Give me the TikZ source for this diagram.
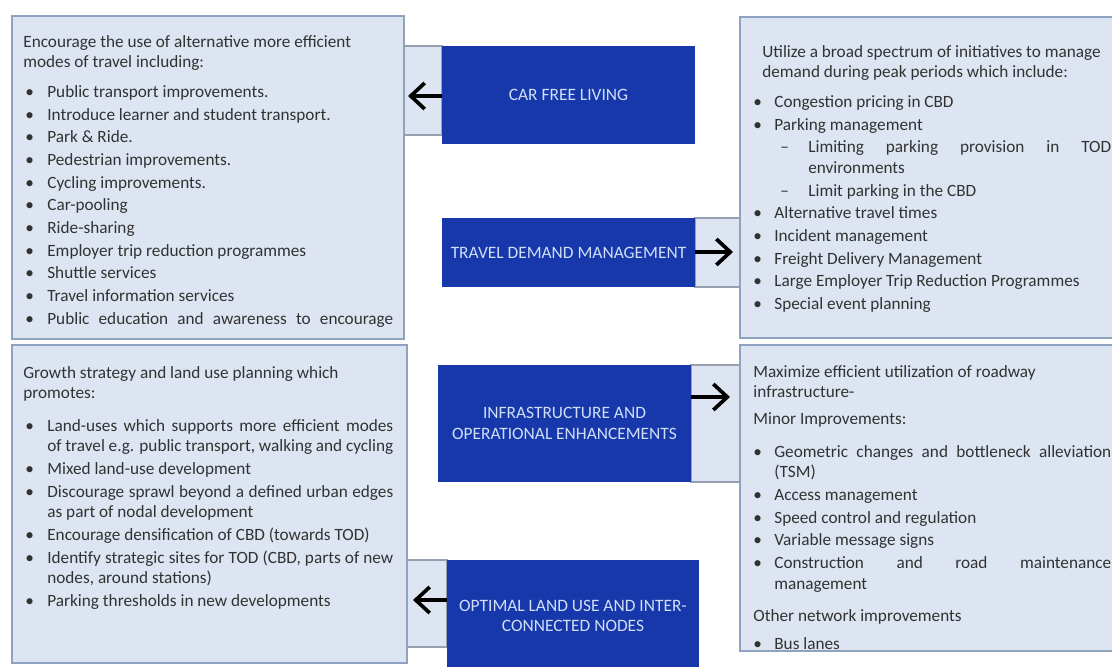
\documentclass[tikz,border=0pt]{standalone}
\usepackage{fontspec}
\setmainfont{Carlito}
\usepackage{enumitem}
\usepackage{tikz}
\usetikzlibrary{arrows.meta}
\definecolor{boxfill}{RGB}{220,229,241}
\definecolor{boxline}{RGB}{143,163,193}
\definecolor{panelline}{RGB}{150,160,176}
\definecolor{themeblue}{RGB}{22,56,170}
\definecolor{themetext}{RGB}{210,222,248}
\definecolor{bodytext}{RGB}{50,50,50}
\newcommand{\px}{0.02cm}
\newcommand{\fullline}[1]{{\parfillskip=0pt\relax #1\par}}
\setlist[itemize]{label=\textbullet, align=left, labelwidth=0.14cm, labelsep=*, itemsep=1.2pt, parsep=0pt, topsep=5.4pt, partopsep=0pt}
\setlist[itemize,1]{leftmargin=0.48cm, labelindent=0.04cm}
\setlist[itemize,2]{label=--, leftmargin=0.68cm, labelindent=0.12cm, topsep=1.2pt}
\tikzset{infobox/.style = {draw=boxline, fill=boxfill, line width=0.8pt, inner sep=0pt}}
\tikzset{linkpanel/.style = {draw=panelline, fill=boxfill, line width=0.6pt, inner sep=0pt}}
\tikzset{themebox/.style = {fill=themeblue, text=themetext, align=center, inner sep=0pt, minimum width=253*\px, font=\fontsize{9.9}{11.7}\selectfont}}
\tikzset{listtext/.style = {anchor=base west, inner sep=0pt, align=justify, text=bodytext, font=\fontsize{9.8}{11.7}\selectfont}}
\tikzset{bigarrow/.style={line width=2.1pt, -{Straight Barb[length=0.28cm,width=0.52cm]}}}

\begin{document}
\begin{tikzpicture}[x=0.02cm, y=-0.02cm]
	\useasboundingbox (0,0) rectangle (1112,666);
	\clip (0,0) rectangle (1112,666);
	% panels behind the arrows
	\node[linkpanel, minimum width=38*\px, minimum height=89*\px] (carlink) at (423,90.5) {};
	\node[linkpanel, minimum width=45*\px, minimum height=69*\px] (tdmlink) at (717.5,252.5) {};
	\node[linkpanel, minimum width=49*\px, minimum height=117*\px] (infralink) at (715.5,423.5) {};
	\node[linkpanel, minimum width=40*\px, minimum height=87*\px] (landlink) at (427,603.5) {};
	% the four lists
	\node[infobox, minimum width=392*\px, minimum height=323*\px] (carbox) at (208,177.5) {};
	\node[infobox, minimum width=385*\px, minimum height=321*\px] (tdmbox) at (932.5,177.5) {};
	\node[infobox, minimum width=395*\px, minimum height=318*\px] (landbox) at (209.5,504) {};
	\node[infobox, minimum width=385*\px, minimum height=306*\px] (infrabox) at (932.5,498) {};
	\node[listtext, text width=7.4cm] (cartext) at (23,47) {%
		Encourage the use of alternative more efficient\\
		modes of travel including:
		\begin{itemize}
			\item Public transport improvements.
			\item Introduce learner and student transport.
			\item Park \& Ride.
			\item Pedestrian improvements.
			\item Cycling improvements.
			\item Car-pooling
			\item Ride-sharing
			\item Employer trip reduction programmes
			\item Shuttle services
			\item Travel information services
			\item \fullline{Public education and awareness to encourage}
		\end{itemize}};
	\node[listtext, text width=7.16cm] (tdmtext) at (753,57) {%
		\hspace*{0.18cm}Utilize a broad spectrum of initiatives to manage\\
		\hspace*{0.18cm}demand during peak periods which include:
		\begin{itemize}[leftmargin=0.42cm, labelindent=0pt]
			\item Congestion pricing in CBD
			\item Parking management
			\begin{itemize}
				\item Limiting parking provision in TOD\linebreak environments
				\item Limit parking in the CBD
			\end{itemize}
			\item Alternative travel times
			\item Incident management
			\item Freight Delivery Management
			\item Large Employer Trip Reduction Programmes
			\item Special event planning
		\end{itemize}};
	\node[listtext, text width=7.4cm] (landtext) at (23,378) {%
		Growth strategy and land use planning which\\
		promotes:
		\begin{itemize}[topsep=7pt]
			\item Land-uses which supports more efficient modes\linebreak of travel e.g. public transport, walking and cycling
			\item Mixed land-use development
			\item Discourage sprawl beyond a defined urban edges\linebreak as part of nodal development
			\item Encourage densification of CBD (towards TOD)
			\item Identify strategic sites for TOD (CBD, parts of new\linebreak nodes, around stations)
			\item Parking thresholds in new developments
		\end{itemize}};
	\node[listtext, text width=7.16cm] (infratext) at (753,377) {%
		Maximize efficient utilization of roadway\\
		infrastructure-\par\vspace{3.6pt}
		Minor Improvements:
		\begin{itemize}[leftmargin=0.42cm, labelindent=0pt, topsep=7pt]
			\item Geometric changes and bottleneck alleviation\linebreak (TSM)
			\item Access management
			\item Speed control and regulation
			\item Variable message signs
			\item Construction and road maintenance\linebreak management
		\end{itemize}
		Other network improvements
		\begin{itemize}[leftmargin=0.42cm, labelindent=0pt, topsep=3.8pt]
			\item Bus lanes
		\end{itemize}};
	% the four themes
	\node[themebox, minimum height=98*\px] (carfree) at (568.5,95) {CAR FREE LIVING};
	\node[themebox, minimum height=69*\px] (tdm) at (568.5,252.5) {TRAVEL DEMAND MANAGEMENT};
	\node[themebox, minimum height=117*\px] (infra) at (564.5,423.5) {INFRASTRUCTURE AND\\OPERATIONAL ENHANCEMENTS};
	\node[themebox, minimum height=112*\px, minimum width=252*\px] (landuse) at (573,616) {OPTIMAL LAND USE AND INTER-\\CONNECTED NODES};
	% arrows
	\coordinate (carhead) at (408,96);
	\coordinate (tdmhead) at (733,252);
	\coordinate (infrahead) at (730,397);
	\coordinate (landhead) at (413,600);
	\draw[bigarrow] (carfree.west |- carhead) -- (carhead);
	\draw[bigarrow] (tdm.east |- tdmhead) -- (tdmhead);
	\draw[bigarrow] (infra.east |- infrahead) -- (infrahead);
	\draw[bigarrow] (landuse.west |- landhead) -- (landhead);
\end{tikzpicture}
\end{document}
